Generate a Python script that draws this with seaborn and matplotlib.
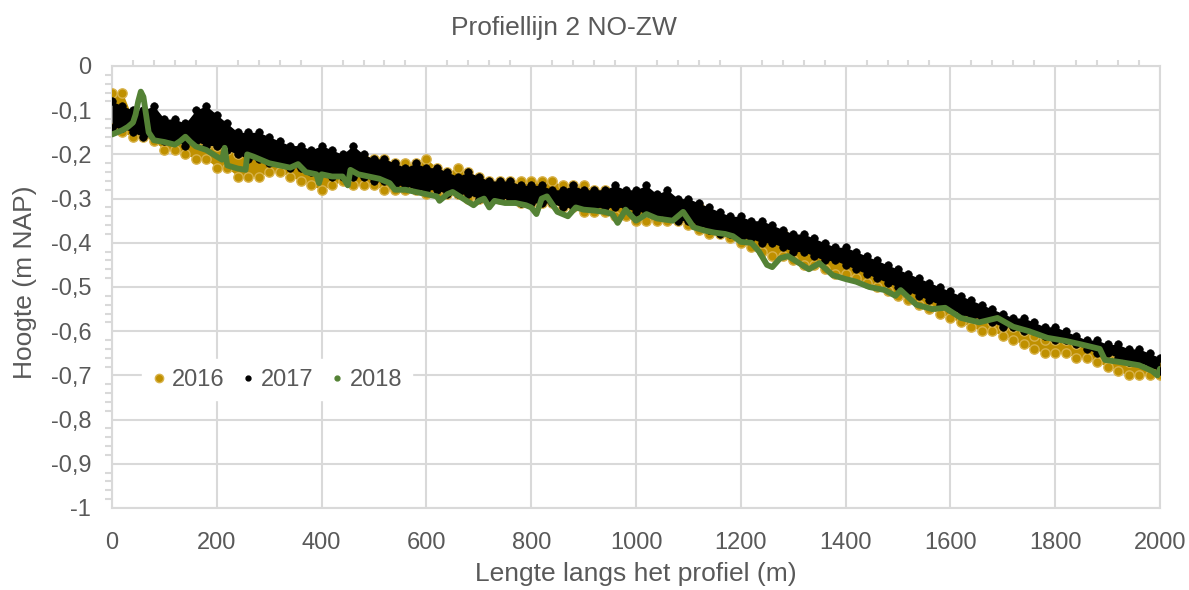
import numpy as np
import pandas as pd
import seaborn as sns
import matplotlib
matplotlib.use("Agg")
import matplotlib.pyplot as plt
from matplotlib.lines import Line2D
from matplotlib.ticker import MultipleLocator

# distance along the profile (m), every 20 m
afstand = list(range(0, 2001, 20))

# 2017 band (upper / lower edge of the scatter cloud)
h2017_top = [-0.08, -0.09, -0.10, -0.10, -0.09, -0.12, -0.12, -0.13, -0.10, -0.09,
             -0.11, -0.13, -0.15, -0.15, -0.15, -0.16, -0.17, -0.18, -0.18, -0.19,
             -0.18, -0.19, -0.20, -0.18, -0.20, -0.21, -0.21, -0.22, -0.23, -0.22,
             -0.23, -0.23, -0.24, -0.25, -0.24, -0.25, -0.26, -0.26, -0.26, -0.27,
             -0.27, -0.27, -0.28, -0.28, -0.27, -0.28, -0.28, -0.28, -0.27, -0.28,
             -0.28, -0.27, -0.29, -0.28, -0.30, -0.30, -0.31, -0.32, -0.33, -0.34,
             -0.34, -0.35, -0.35, -0.36, -0.37, -0.38, -0.38, -0.39, -0.40, -0.41,
             -0.41, -0.42, -0.43, -0.44, -0.45, -0.46, -0.47, -0.48, -0.49, -0.50,
             -0.51, -0.52, -0.53, -0.54, -0.55, -0.56, -0.57, -0.57, -0.58, -0.59,
             -0.59, -0.60, -0.61, -0.62, -0.62, -0.63, -0.63, -0.64, -0.64, -0.65,
             -0.66]
h2017_bot = [-0.14, -0.14, -0.15, -0.16, -0.16, -0.17, -0.17, -0.18, -0.17, -0.18,
             -0.18, -0.19, -0.20, -0.21, -0.21, -0.22, -0.22, -0.23, -0.23, -0.24,
             -0.24, -0.25, -0.25, -0.25, -0.25, -0.26, -0.26, -0.27, -0.27, -0.28,
             -0.28, -0.28, -0.29, -0.29, -0.29, -0.30, -0.30, -0.30, -0.30, -0.31,
             -0.31, -0.31, -0.31, -0.32, -0.32, -0.32, -0.32, -0.32, -0.32, -0.32,
             -0.33, -0.33, -0.34, -0.34, -0.35, -0.35, -0.36, -0.37, -0.38, -0.38,
             -0.39, -0.39, -0.40, -0.40, -0.41, -0.42, -0.42, -0.43, -0.44, -0.44,
             -0.45, -0.46, -0.47, -0.48, -0.49, -0.50, -0.51, -0.52, -0.53, -0.54,
             -0.55, -0.56, -0.57, -0.57, -0.58, -0.59, -0.59, -0.60, -0.60, -0.61,
             -0.62, -0.62, -0.63, -0.64, -0.65, -0.65, -0.66, -0.67, -0.67, -0.68,
             -0.69]

# 2016 band
h2016_top = [-0.06, -0.06, -0.12, -0.13, -0.15, -0.16, -0.16, -0.17, -0.17, -0.18,
             -0.18, -0.19, -0.20, -0.20, -0.19, -0.20, -0.20, -0.21, -0.21, -0.21,
             -0.22, -0.21, -0.22, -0.22, -0.21, -0.21, -0.21, -0.22, -0.22, -0.22,
             -0.21, -0.23, -0.24, -0.23, -0.24, -0.25, -0.26, -0.26, -0.26, -0.26,
             -0.26, -0.26, -0.26, -0.27, -0.27, -0.27, -0.28, -0.28, -0.29, -0.29,
             -0.30, -0.31, -0.31, -0.31, -0.31, -0.32, -0.32, -0.34, -0.35, -0.36,
             -0.36, -0.37, -0.37, -0.38, -0.38, -0.39, -0.40, -0.41, -0.42, -0.43,
             -0.44, -0.45, -0.46, -0.47, -0.48, -0.49, -0.50, -0.51, -0.52, -0.53,
             -0.54, -0.55, -0.56, -0.57, -0.58, -0.59, -0.59, -0.60, -0.61, -0.62,
             -0.62, -0.62, -0.63, -0.63, -0.64, -0.65, -0.66, -0.67, -0.67, -0.68,
             -0.68]
h2016_bot = [-0.14, -0.15, -0.16, -0.16, -0.17, -0.19, -0.19, -0.20, -0.21, -0.21,
             -0.23, -0.23, -0.25, -0.25, -0.25, -0.24, -0.24, -0.25, -0.26, -0.27,
             -0.28, -0.27, -0.26, -0.27, -0.27, -0.27, -0.28, -0.28, -0.28, -0.28,
             -0.29, -0.29, -0.29, -0.29, -0.30, -0.30, -0.30, -0.30, -0.30, -0.31,
             -0.31, -0.31, -0.31, -0.32, -0.32, -0.33, -0.33, -0.33, -0.34, -0.34,
             -0.35, -0.35, -0.35, -0.35, -0.35, -0.36, -0.37, -0.38, -0.38, -0.39,
             -0.40, -0.41, -0.42, -0.43, -0.43, -0.44, -0.45, -0.45, -0.46, -0.47,
             -0.47, -0.48, -0.49, -0.50, -0.51, -0.52, -0.53, -0.54, -0.55, -0.56,
             -0.57, -0.58, -0.59, -0.60, -0.60, -0.61, -0.62, -0.63, -0.64, -0.65,
             -0.65, -0.65, -0.66, -0.66, -0.67, -0.68, -0.69, -0.70, -0.70, -0.70,
             -0.70]

# 2018 profile line
x2018 = [0, 10, 20, 30, 40, 45, 50, 55, 60, 65, 70, 80, 100, 120, 130, 140, 150, 160,
         180, 200, 210, 215, 220, 240, 255, 258, 270, 290, 300, 320, 340, 355, 370,
         390, 395, 400, 420, 440, 450, 455, 470, 490, 510, 530, 540, 560, 580, 600,
         620, 625, 640, 650, 670, 690, 700, 710, 720, 730, 750, 770, 790, 800, 810,
         820, 830, 850, 870, 885, 900, 920, 940, 955, 965, 980, 1000, 1020, 1040,
         1070, 1090, 1110, 1130, 1150, 1170, 1185, 1200, 1220, 1235, 1250, 1260,
         1275, 1290, 1310, 1330, 1350, 1375, 1400, 1420, 1445, 1475, 1495, 1505,
         1535, 1565, 1590, 1620, 1655, 1690, 1720, 1750, 1785, 1820, 1850, 1885,
         1895, 1925, 1960, 1985, 1995, 2000]
h2018 = [-0.155, -0.150, -0.145, -0.138, -0.128, -0.110, -0.080, -0.058, -0.070,
         -0.110, -0.150, -0.168, -0.172, -0.178, -0.170, -0.160, -0.172, -0.182,
         -0.190, -0.205, -0.212, -0.185, -0.225, -0.232, -0.235, -0.200, -0.205,
         -0.215, -0.220, -0.225, -0.230, -0.222, -0.240, -0.245, -0.265, -0.245,
         -0.250, -0.250, -0.270, -0.235, -0.245, -0.250, -0.255, -0.265, -0.280,
         -0.280, -0.285, -0.290, -0.295, -0.305, -0.290, -0.285, -0.300, -0.315,
         -0.305, -0.300, -0.320, -0.305, -0.310, -0.310, -0.315, -0.320, -0.335,
         -0.300, -0.295, -0.330, -0.340, -0.320, -0.325, -0.327, -0.330, -0.335,
         -0.355, -0.325, -0.350, -0.335, -0.345, -0.350, -0.330, -0.365, -0.372,
         -0.377, -0.380, -0.385, -0.398, -0.400, -0.420, -0.450, -0.455, -0.435,
         -0.430, -0.445, -0.460, -0.446, -0.473, -0.482, -0.488, -0.500, -0.507,
         -0.520, -0.507, -0.540, -0.550, -0.547, -0.570, -0.580, -0.570, -0.590,
         -0.600, -0.615, -0.622, -0.630, -0.640, -0.665, -0.670, -0.677, -0.690,
         -0.700, -0.685]

x_ticks = list(range(0, 2001, 200))
y_ticks = [0, -0.1, -0.2, -0.3, -0.4, -0.5, -0.6, -0.7, -0.8, -0.9, -1]
y_ticklabels = ["0", "-0,1", "-0,2", "-0,3", "-0,4", "-0,5", "-0,6", "-0,7", "-0,8", "-0,9", "-1"]

c2016 = "#BF9000"
c2017 = "#000000"
c2018 = "#548235"
grey = "#D9D9D9"
txt = "#595959"

sns.set_theme(style="white")
plt.rcParams["font.family"] = ["Liberation Sans", "DejaVu Sans"]

df16 = pd.DataFrame({"x": afstand, "top": h2016_top, "bot": h2016_bot})
df17 = pd.DataFrame({"x": afstand, "top": h2017_top, "bot": h2017_bot})
df18 = pd.DataFrame({"x": x2018, "h": h2018})

fig = plt.figure(figsize=(11.89, 5.90), dpi=100)
ax = fig.add_axes([112 / 1189, 1 - 508 / 590, 1048 / 1189, 442 / 590])

# 2016: dense cloud of gold points
ax.fill_between(df16["x"], df16["bot"], df16["top"], color=c2016, lw=0, zorder=2)
long16 = df16.melt(id_vars="x", value_name="h")
sns.scatterplot(data=long16, x="x", y="h", color=c2016, edgecolor="#D8B24A",
                linewidth=1, s=45, ax=ax, zorder=3, legend=False)

# 2017: dense cloud of black points
ax.fill_between(df17["x"], df17["bot"], df17["top"], color=c2017, lw=0, zorder=4)
long17 = df17.melt(id_vars="x", value_name="h")
sns.scatterplot(data=long17, x="x", y="h", color=c2017, edgecolor=c2017,
                s=30, ax=ax, zorder=5, legend=False)

# 2018
sns.lineplot(data=df18, x="x", y="h", color=c2018, lw=4.2, ax=ax, zorder=6,
             sort=False, legend=False)

ax.set_xlim(0, 2000)
ax.set_ylim(-1, 0)
ax.set_xticks(x_ticks)
ax.set_xticklabels([str(v) for v in x_ticks])
ax.set_yticks(y_ticks)
ax.set_yticklabels(y_ticklabels)
ax.xaxis.set_minor_locator(MultipleLocator(40))
ax.yaxis.set_minor_locator(MultipleLocator(0.02))
ax.grid(True, which="major", color=grey, lw=1.5, zorder=0)
ax.set_axisbelow(True)
for sp in ax.spines.values():
    sp.set_color(grey)
    sp.set_linewidth(1.5)

ax.tick_params(axis="both", which="major", length=0, labelsize=17, labelcolor=txt)
ax.tick_params(axis="x", which="major", pad=17)
ax.tick_params(axis="y", which="major", pad=15)
ax.tick_params(axis="x", which="minor", bottom=False, top=True, direction="out",
               length=4, width=1.5, color=grey)
ax.tick_params(axis="y", which="minor", left=True, direction="out",
               length=5, width=1.5, color=grey)

ax.set_xlabel("Lengte langs het profiel (m)", fontsize=19, color=txt)
ax.set_ylabel("Hoogte (m NAP)", fontsize=19, color=txt)
ax.xaxis.set_label_coords(0.5, -0.122)
ax.yaxis.set_label_coords(-0.072, 0.511)
fig.text(564 / 1189, 1 - 28 / 590, "Profiellijn 2 NO-ZW", ha="center", va="center",
         fontsize=19, color=txt)

handles = [
    Line2D([], [], ls="none", marker="o", ms=6, color=c2016, mec="#D8B24A", label="2016"),
    Line2D([], [], ls="none", marker="o", ms=3.5, color=c2017, label="2017"),
    Line2D([], [], ls="none", marker="o", ms=3.5, color=c2018, label="2018"),
]
leg = ax.legend(handles=handles, ncol=3, loc="center", bbox_to_anchor=(0.1576, 0.29),
                frameon=True, facecolor="white", edgecolor="white", framealpha=1,
                fontsize=17, handlelength=0.6, handletextpad=0.25, columnspacing=0.7,
                borderpad=0.4)
for t in leg.get_texts():
    t.set_color(txt)
leg.set_zorder(10)

plt.savefig("out.png", dpi=100)
